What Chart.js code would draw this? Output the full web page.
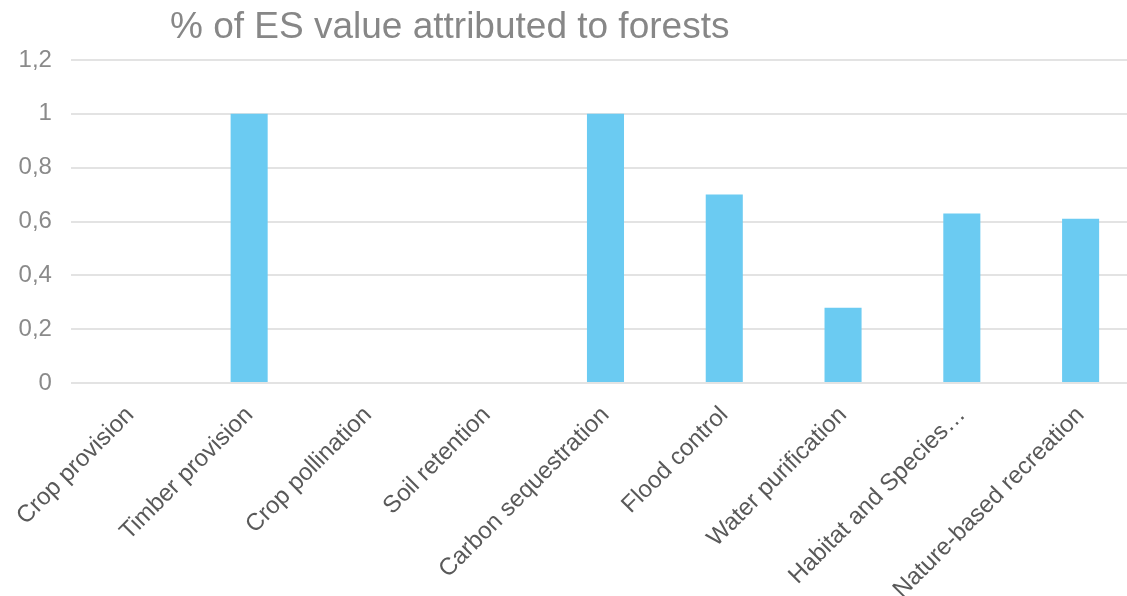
<!DOCTYPE html>
<html>
<head>
<meta charset="utf-8">
<script src="https://cdn.jsdelivr.net/npm/chart.js@4.4.1/dist/chart.umd.min.js"></script>
<style>
  html, body { margin: 0; padding: 0; background: #ffffff; overflow: hidden; width: 1127px; height: 596px; }
  #wrap { position: absolute; left: -1px; top: 0; width: 1150px; height: 596px; }
</style>
</head>
<body>
<div id="wrap"><canvas id="chart" width="1150" height="596"></canvas></div>
<script>
// Ecosystem services and the share of their value attributed to forests
const categories = [
  "Crop provision",
  "Timber provision",
  "Crop pollination",
  "Soil retention",
  "Carbon sequestration",
  "Flood control",
  "Water purification",
  "Habitat and Species…",
  "Nature-based recreation"
];
const forestShare = [0, 1, 0, 0, 1, 0.7, 0.28, 0.63, 0.61];
const yTicks = [0, 0.2, 0.4, 0.6, 0.8, 1, 1.2];
const titleText = "% of ES value attributed to forests";

const FONT = "'Liberation Sans', Arial, Helvetica, sans-serif";

// Title drawn left of centre, above the plot area
const titlePlugin = {
  id: 'leftTitle',
  afterDraw(chart) {
    const ctx = chart.ctx;
    ctx.save();
    ctx.font = "37px " + FONT;
    ctx.fillStyle = "#878787";
    ctx.textAlign = "left";
    ctx.textBaseline = "alphabetic";
    ctx.fillText(titleText, 171, 38);
    ctx.restore();
  }
};

new Chart(document.getElementById('chart'), {
  type: 'bar',
  data: {
    labels: categories,
    datasets: [{
      data: forestShare,
      backgroundColor: '#6BCBF2',
      borderWidth: 0,
      categoryPercentage: 1,
      barPercentage: 0.312
    }]
  },
  options: {
    responsive: false,
    animation: false,
    devicePixelRatio: 1,
    layout: { padding: { top: 60, right: 9, left: 0, bottom: 0 } },
    plugins: {
      legend: { display: false },
      title: { display: false },
      tooltip: { enabled: false }
    },
    scales: {
      x: {
        grid: { display: false, drawTicks: false },
        border: { display: false },
        ticks: {
          autoSkip: false,
          minRotation: 45,
          maxRotation: 45,
          padding: 18,
          color: '#595959',
          font: { family: FONT, size: 24 }
        },
        afterFit(scale) { scale.height = 213; }
      },
      y: {
        min: 0,
        max: 1.2,
        afterBuildTicks(scale) { scale.ticks = yTicks.map(v => ({ value: v })); },
        grid: { color: '#E3E3E3', lineWidth: 2, drawTicks: false },
        border: { display: false },
        ticks: {
          padding: 19,
          color: '#8A8A8A',
          font: { family: FONT, size: 24 },
          callback: (v) => String(Math.round(v * 10) / 10).replace('.', ',')
        },
        afterFit(scale) { scale.width = 71; }
      }
    }
  },
  plugins: [titlePlugin]
});
</script>
</body>
</html>
